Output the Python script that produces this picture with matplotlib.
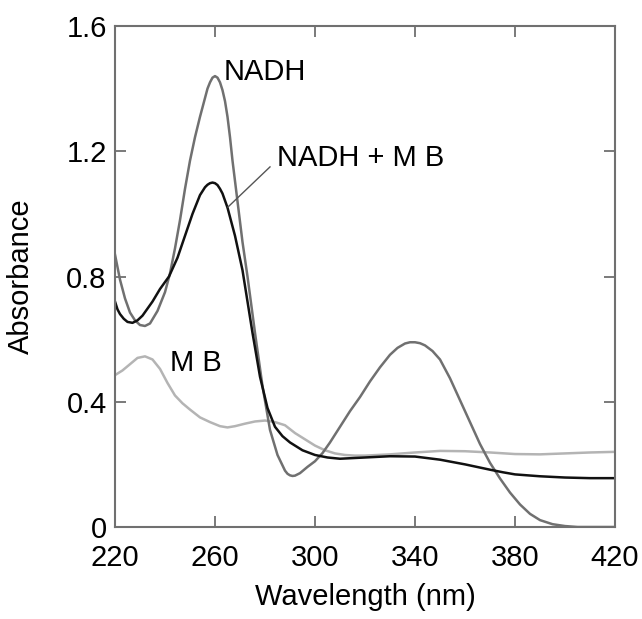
import numpy as np
import matplotlib
matplotlib.use("Agg")
import matplotlib.pyplot as plt

plt.rcParams['font.family'] = ['Liberation Sans', 'DejaVu Sans']

# NADH spectrum
nadh_wl = [220, 221, 222, 224, 226, 228, 230, 232, 234, 237, 240, 242, 244, 246,
           248, 250, 252, 254, 256, 257, 258, 259, 260, 261, 262, 263, 264, 265,
           266, 267, 268, 269, 271, 273, 276, 279, 282, 285, 288, 289, 290, 291,
           292, 294, 297, 300, 303, 306, 310, 314, 318, 322, 326, 330, 333, 336,
           338, 340, 342, 344, 347, 350, 354, 358, 362, 366, 370, 374, 378, 382,
           386, 390, 395, 400, 405, 420]
nadh_abs = [0.87, 0.83, 0.79, 0.73, 0.685, 0.66, 0.645, 0.642, 0.65, 0.69, 0.75,
            0.81, 0.89, 0.98, 1.08, 1.17, 1.245, 1.31, 1.37, 1.40, 1.42, 1.435,
            1.44, 1.435, 1.42, 1.395, 1.36, 1.31, 1.245, 1.17, 1.105, 1.04, 0.91,
            0.80, 0.62, 0.45, 0.31, 0.23, 0.18, 0.17, 0.165, 0.163, 0.164, 0.172,
            0.192, 0.21, 0.236, 0.27, 0.32, 0.37, 0.415, 0.465, 0.51, 0.55, 0.572,
            0.586, 0.59, 0.59, 0.587, 0.58, 0.562, 0.535, 0.475, 0.405, 0.335,
            0.265, 0.205, 0.155, 0.11, 0.072, 0.042, 0.022, 0.009, 0.003, 0.0, 0.0]

# NADH + MB spectrum
mix_wl = [220, 221, 222, 223.5, 225, 227, 229, 231, 235, 238, 241.6, 245, 248, 251,
          254, 256, 257, 258, 259, 260, 261, 262, 263, 265, 268, 271, 273, 275,
          278, 281, 284, 287, 290, 295, 300, 305, 310, 315, 320, 330, 340, 350,
          360, 370, 375, 380, 390, 400, 410, 420]
mix_abs = [0.72, 0.695, 0.68, 0.665, 0.655, 0.652, 0.66, 0.675, 0.72, 0.76, 0.80,
           0.86, 0.93, 1.00, 1.06, 1.085, 1.093, 1.098, 1.10, 1.098, 1.092, 1.08,
           1.065, 1.02, 0.93, 0.82, 0.72, 0.62, 0.48, 0.38, 0.32, 0.29, 0.27,
           0.245, 0.23, 0.222, 0.218, 0.22, 0.222, 0.226, 0.225, 0.215, 0.20,
           0.183, 0.175, 0.168, 0.162, 0.158, 0.156, 0.156]

# MB spectrum
mb_wl = [220, 223, 226, 229, 232, 235, 238, 241, 244, 247, 250, 254, 258, 262, 265,
         268, 272, 276, 280, 284, 288, 292, 296, 300, 304, 308, 312, 316, 320, 330,
         340, 350, 360, 370, 380, 390, 400, 410, 420]
mb_abs = [0.485, 0.50, 0.52, 0.54, 0.545, 0.535, 0.505, 0.46, 0.42, 0.395, 0.375,
          0.35, 0.335, 0.322, 0.318, 0.322, 0.33, 0.337, 0.34, 0.335, 0.325, 0.30,
          0.28, 0.26, 0.245, 0.235, 0.23, 0.228, 0.228, 0.232, 0.238, 0.243, 0.242,
          0.238, 0.233, 0.232, 0.235, 0.238, 0.24]

xticks = [220, 260, 300, 340, 380, 420]
yticks = [0, 0.4, 0.8, 1.2, 1.6]
ytick_labels = ['0', '0.4', '0.8', '1.2', '1.6']

fig = plt.figure(figsize=(6.42, 6.19), dpi=100)
ax = fig.add_axes([115 / 642, 92 / 619, 500 / 642, 501 / 619])

ax.plot(mb_wl, mb_abs, color='#b4b4b4', lw=1.8)
ax.plot(nadh_wl, nadh_abs, color='#707070', lw=1.8)
ax.plot(mix_wl, mix_abs, color='#111111', lw=1.8)

ax.set_xlim(220, 420)
ax.set_ylim(0, 1.6)
ax.set_xticks(xticks)
ax.set_yticks(yticks)
ax.set_yticklabels(ytick_labels)
ax.tick_params(direction='in', length=8, width=1.3, color='#707070',
               top=True, right=True, labelsize=21)
ax.tick_params(axis='x', pad=12)
ax.tick_params(axis='y', pad=6)
for s in ax.spines.values():
    s.set_color('#707070')
    s.set_linewidth(1.5)

ax.set_xlabel('Wavelength (nm)', fontsize=21, labelpad=8)
ax.set_ylabel('Absorbance', fontsize=21)
ax.yaxis.set_label_coords(-0.16, 0.5)

# curve labels
ax.text(263.6, 1.454, 'NADH', fontsize=21, ha='left', va='center')
ax.text(284.8, 1.179, 'NADH + M B', fontsize=21, ha='left', va='center')
ax.text(242, 0.524, 'M B', fontsize=21, ha='left', va='center')
ax.plot([282, 265.2], [1.15, 1.022], color='#555555', lw=1)

fig.savefig('out.png', dpi=100)
